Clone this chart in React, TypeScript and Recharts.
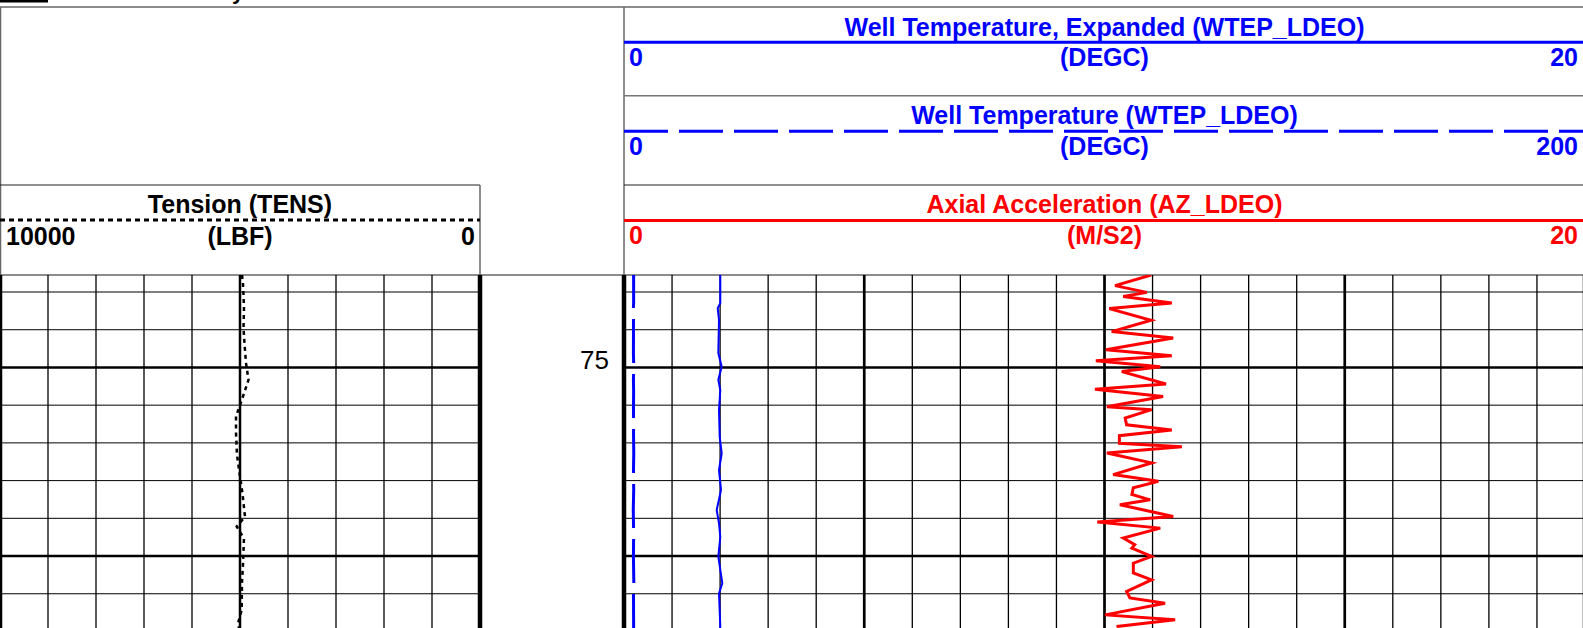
import React from "react";
import { LineChart, Line, XAxis, YAxis, ReferenceLine } from "recharts";

const FONT = "'Liberation Sans', Arial, Helvetica, sans-serif";
const BLUE = "#0000ff";
const RED = "#ff0000";

// depth window shown in the tracks
const DEPTH_TOP = 72.549;
const DEPTH_BASE = 81.908;

const depthGrid = [73, 74, 75, 76, 77, 78, 79, 80, 81];
const depthMajor = [75, 80];
const depthLabels = [75];

// Tension (TENS), LBF
const tensDepth = [72.55, 72.76, 73.42, 73.96, 74.44, 74.88, 75.33, 75.77, 76.3, 76.74, 77.32, 77.89, 78.34, 78.96, 79.22, 79.53, 80.24, 80.68, 81.43, 81.79, 81.91];
const tensLbf = [4958, 4938, 4917, 4927, 4902, 4875, 4823, 4938, 5083, 5083, 5063, 5000, 4948, 4896, 5069, 4917, 4938, 4958, 4965, 5042, 5020];

// Well temperature (WTEP_LDEO), DEGC
const wtepDepth = [72.55, 73.3, 73.43, 73.74, 74.62, 74.98, 75.33, 75.6, 76.13, 76.84, 77.28, 77.72, 78.25, 78.78, 79.13, 79.49, 80.02, 80.72, 80.99, 81.87, 81.91];
const wtepDegc = [2.004, 2.004, 1.95, 1.977, 1.963, 2.033, 1.963, 2.004, 1.977, 1.992, 2.033, 1.977, 2.019, 1.929, 1.977, 2.004, 1.963, 2.046, 1.977, 2.004, 2.0];

// Axial acceleration (AZ_LDEO), M/S2
const azDepth = [72.55, 72.83, 73.01, 73.12, 73.29, 73.44, 73.75, 74.05, 74.22, 74.53, 74.69, 74.82, 74.98, 75.11, 75.44, 75.58, 75.77, 76.04, 76.12, 76.34, 76.52, 76.66, 76.81, 77.01, 77.1, 77.27, 77.53, 77.84, 78.02, 78.19, 78.37, 78.51, 78.64, 78.95, 79.1, 79.26, 79.52, 79.7, 79.79, 80.01, 80.19, 80.45, 80.63, 80.94, 81.11, 81.25, 81.56, 81.69, 81.87];
const azMs2 = [10.97, 10.22, 10.88, 10.39, 11.4, 10.1, 10.97, 10.15, 11.43, 10.03, 11.4, 9.82, 11.16, 10.36, 11.28, 9.8, 11.22, 10.05, 10.98, 10.43, 10.46, 11.4, 10.31, 10.31, 11.61, 10.05, 10.98, 10.18, 11.12, 10.6, 10.57, 10.95, 10.32, 11.43, 9.85, 11.16, 10.39, 10.63, 10.57, 10.98, 10.6, 10.6, 10.98, 10.46, 10.53, 11.26, 10.01, 11.47, 10.25];

const tensGrid = [0, 1000, 2000, 3000, 4000, 5000, 6000, 7000, 8000, 9000, 10000];
const tempGrid = [0, 1, 2, 3, 4, 5, 6, 7, 8, 9, 10, 11, 12, 13, 14, 15, 16, 17, 18, 19, 20];

const tensRows = tensDepth.map((depth, i) => ({ depth, tens: tensLbf[i] }));
const rightRows = [
  ...wtepDepth.map((depth, i) => ({ depth, wtep: wtepDegc[i] })),
  ...azDepth.map((depth, i) => ({ depth, az: azMs2[i] })),
].sort((a, b) => a.depth - b.depth);

const TRACK_H = 353;
const PAD = 5;

function hLines() {
  return depthGrid.map((d) => (
    <ReferenceLine
      key={"h" + d}
      y={d}
      yAxisId="depth"
      xAxisId="grid"
      stroke="#000"
      strokeWidth={depthMajor.includes(d) ? 2.5 : 1}
      ifOverflow="visible"
    />
  ));
}

function Header() {
  const t = { fontFamily: FONT, fontWeight: 700, fontSize: 25 } as const;
  const cx = 1104.5;
  return (
    <svg width={1583} height={280} style={{ position: "absolute", left: 0, top: 0 }}>
      <rect x={0} y={0} width={48} height={2.5} fill="#000" />
      <text x={232} y={-1.5} fontSize={22} fontWeight={700} fontFamily={FONT}>y</text>

      {/* frame */}
      <line x1={0} x2={1583} y1={7} y2={7} stroke="#666" strokeWidth={1.5} />
      <line x1={0.5} x2={0.5} y1={7} y2={275} stroke="#666" strokeWidth={1.5} />
      <line x1={624} x2={624} y1={7} y2={275} stroke="#666" strokeWidth={1.5} />
      <line x1={624} x2={1583} y1={95.7} y2={95.7} stroke="#777" strokeWidth={1.5} />
      <line x1={0} x2={480} y1={185} y2={185} stroke="#222" strokeWidth={1.2} />
      <line x1={624} x2={1583} y1={185} y2={185} stroke="#222" strokeWidth={1.2} />
      <line x1={480} x2={480} y1={185} y2={275} stroke="#666" strokeWidth={1.5} />
      <line x1={0} x2={1583} y1={275} y2={275} stroke="#666" strokeWidth={1.5} />

      {/* Tension */}
      <text {...t} x={240} y={212.5} textAnchor="middle" fill="#000">Tension (TENS)</text>
      <line x1={0} x2={480} y1={220} y2={220} stroke="#000" strokeWidth={3} strokeDasharray="5 4" />
      <text {...t} x={6} y={245} fill="#000">10000</text>
      <text {...t} x={240} y={245} textAnchor="middle" fill="#000">(LBF)</text>
      <text {...t} x={475} y={245} textAnchor="end" fill="#000">0</text>

      {/* Well temperature, expanded */}
      <text {...t} x={cx} y={36} textAnchor="middle" fill={BLUE}>Well Temperature, Expanded (WTEP_LDEO)</text>
      <line x1={624} x2={1583} y1={42.3} y2={42.3} stroke={BLUE} strokeWidth={3} />
      <text {...t} x={629} y={66} fill={BLUE}>0</text>
      <text {...t} x={cx} y={66} textAnchor="middle" fill={BLUE}>(DEGC)</text>
      <text {...t} x={1578} y={66} textAnchor="end" fill={BLUE}>20</text>

      {/* Well temperature */}
      <text {...t} x={cx} y={124} textAnchor="middle" fill={BLUE}>Well Temperature (WTEP_LDEO)</text>
      <line x1={624} x2={1583} y1={131.3} y2={131.3} stroke={BLUE} strokeWidth={3} strokeDasharray="44 11" />
      <text {...t} x={629} y={155} fill={BLUE}>0</text>
      <text {...t} x={cx} y={155} textAnchor="middle" fill={BLUE}>(DEGC)</text>
      <text {...t} x={1578} y={155} textAnchor="end" fill={BLUE}>200</text>

      {/* Axial acceleration */}
      <text {...t} x={cx} y={212.5} textAnchor="middle" fill={RED}>Axial Acceleration (AZ_LDEO)</text>
      <line x1={624} x2={1583} y1={220.5} y2={220.5} stroke={RED} strokeWidth={3} />
      <text {...t} x={629} y={244} fill={RED}>0</text>
      <text {...t} x={cx} y={244} textAnchor="middle" fill={RED}>(M/S2)</text>
      <text {...t} x={1578} y={244} textAnchor="end" fill={RED}>20</text>
    </svg>
  );
}

function DepthTick({ y, payload }: any) {
  return (
    <text x={129} y={y + 1.5} textAnchor="end" fontSize={26} fontFamily={FONT} fill="#000">
      {payload.value}
    </text>
  );
}

function TensionTrack() {
  return (
    <div style={{ position: "absolute", left: 0, top: 275 - PAD }}>
      <LineChart
        width={488}
        height={TRACK_H + PAD * 2}
        layout="vertical"
        data={tensRows}
        margin={{ top: PAD, right: 8, bottom: PAD, left: 0 }}
      >
        <XAxis xAxisId="grid" type="number" domain={[0, 10000]} reversed hide allowDataOverflow />
        <YAxis yAxisId="depth" type="number" dataKey="depth" domain={[DEPTH_TOP, DEPTH_BASE]} hide allowDataOverflow />
        {hLines()}
        {tensGrid.map((v) => (
          <ReferenceLine
            key={"v" + v}
            x={v}
            xAxisId="grid"
            yAxisId="depth"
            stroke="#000"
            strokeWidth={v === 0 || v === 10000 ? 4.5 : v === 5000 ? 2.5 : 1.3}
            ifOverflow="visible"
          />
        ))}
        <Line
          xAxisId="grid"
          yAxisId="depth"
          dataKey="tens"
          stroke="#000"
          strokeWidth={2.5}
          strokeDasharray="4 4"
          dot={false}
          isAnimationActive={false}
        />
      </LineChart>
    </div>
  );
}

function TemperatureTrack() {
  return (
    <div style={{ position: "absolute", left: 480, top: 275 - PAD }}>
      <LineChart
        width={144 + 961 + 8}
        height={TRACK_H + PAD * 2}
        layout="vertical"
        data={rightRows}
        margin={{ top: PAD, right: 8, bottom: PAD, left: 0 }}
      >
        <XAxis xAxisId="grid" type="number" domain={[0, 20]} hide allowDataOverflow />
        <XAxis xAxisId="wtep200" type="number" domain={[0, 200]} hide allowDataOverflow />
        <XAxis xAxisId="az" type="number" domain={[0, 20]} hide allowDataOverflow />
        <YAxis
          yAxisId="depth"
          type="number"
          dataKey="depth"
          orientation="left"
          width={144}
          domain={[DEPTH_TOP, DEPTH_BASE]}
          allowDataOverflow
          ticks={depthLabels}
          axisLine={false}
          tickLine={false}
          tick={<DepthTick />}
        />
        {hLines()}
        {tempGrid.map((v) => (
          <ReferenceLine
            key={"v" + v}
            x={v}
            xAxisId="grid"
            yAxisId="depth"
            stroke="#000"
            strokeWidth={v === 0 || v === 20 ? 4.5 : v % 5 === 0 ? 2.7 : 1.3}
            ifOverflow="visible"
          />
        ))}
        <Line
          xAxisId="wtep200"
          yAxisId="depth"
          dataKey="wtep"
          stroke={BLUE}
          strokeWidth={3}
          strokeDasharray="44 11"
          strokeDashoffset={11}
          dot={false}
          connectNulls
          isAnimationActive={false}
        />
        <Line
          xAxisId="grid"
          yAxisId="depth"
          dataKey="wtep"
          stroke={BLUE}
          strokeWidth={2}
          dot={false}
          connectNulls
          isAnimationActive={false}
        />
        <Line
          xAxisId="az"
          yAxisId="depth"
          dataKey="az"
          stroke={RED}
          strokeWidth={3}
          dot={false}
          connectNulls
          isAnimationActive={false}
        />
      </LineChart>
    </div>
  );
}

export default function App() {
  return (
    <div
      style={{
        position: "absolute",
        left: 0,
        top: 0,
        width: 1583,
        height: 628,
        overflow: "hidden",
        background: "#fff",
      }}
    >
      <Header />
      <TensionTrack />
      <TemperatureTrack />
    </div>
  );
}
